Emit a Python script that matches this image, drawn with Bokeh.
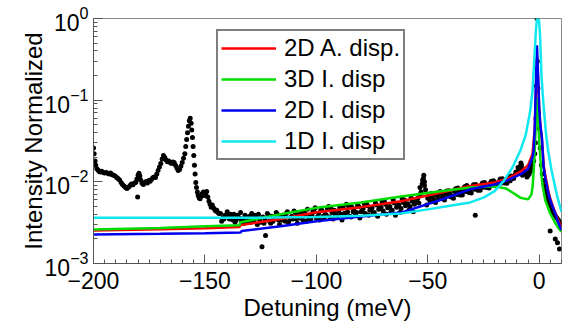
from bokeh.plotting import figure
from bokeh.models import Range1d, SingleIntervalTicker
from bokeh.embed import file_html
from bokeh.resources import INLINE

FONT = "Liberation Sans"

# ---------------- data ----------------
# measured spectrum, left part (x in meV, y in units of 1e-3)
meas_left_x = [-200, -199.7, -199.3, -199, -198.5, -198, -197.5, -197, -196.3, -195.6,
               -195, -194.3, -193.6, -193, -192.3, -191.6, -191, -190.3, -189.6, -189,
               -188.3, -187.6, -187, -186.3, -185.6, -185, -184.3, -183.6, -183, -182.3,
               -181.6, -181, -180.5, -180, -179.6, -179.2, -178.8, -180.2, -178.2, -177.6,
               -177, -176.4, -175.8, -175.2, -174.6, -174, -173.4, -172.8, -172.2, -171.6,
               -171, -170.4, -169.8, -169.2, -168.6, -168, -167.4, -166.8, -166.2, -165.6,
               -165, -164.4, -163.8, -163.2, -162.6, -162, -161.4, -160.8, -160.2, -159.6,
               -159, -158.6, -158.2, -157.8, -157.4, -157, -156.6, -156.2, -155.9, -155.6,
               -155.3, -155, -154.7, -154.4, -154.1, -153.8, -153.4, -153, -152.6, -152.2,
               -151.7, -151.2, -150.7, -150.2, -149.7, -149.2, -148.7, -148.2, -147.7, -147.2,
               -146.7, -146.2, -145.7, -145.2, -144.7, -144.2, -143.7]
meas_left_y = [26, 22, 18, 16, 14.5, 14, 13.5, 13.2, 13.5, 13,
               12.8, 13, 12.7, 12.5, 12.8, 12.2, 12, 11.8, 11.3, 11,
               10.5, 9.8, 9.3, 8.9, 8.5, 8.3, 8.6, 9, 9.4, 9.2,
               9.7, 9.9, 10.8, 12, 12.7, 11.8, 10.5, 6.5, 9.6, 9.3,
               9.8, 10.1, 9.7, 10.4, 10.2, 10.7, 11.2, 11.5, 11.3, 12.5,
               13.8, 15.2, 16.8, 19, 21, 19.8, 18.5, 17.6, 18, 17.2,
               16.8, 17.5, 17.2, 16, 14.8, 13.8, 14.2, 15.5, 17.2, 19.5,
               22, 27, 33, 40, 48, 56, 60, 52, 43, 35,
               27, 21, 16, 12.5, 9.8, 8.5, 7.5, 6.8, 6.4, 6.2,
               6.6, 7.2, 7.5, 6.8, 7.1, 7.6, 6.5, 5.8, 5.3, 4.9,
               5.2, 4.8, 4.6, 4.4, 4.5, 4.2, 4.1]

# measured spectrum, middle part, one point per meV from -143 to -5
meas_mid_x = list(range(-143, -4))
meas_mid_y = [4.1, 3.6, 3.9, 4.3, 3.5, 3.8, 4.0, 3.4, 3.7, 4.2,
              3.5, 3.9, 3.3, 3.8, 4.1, 3.4, 3.6, 4.0, 3.2, 3.7,
              3.5, 4.1, 3.3, 3.8, 3.5, 4.2, 3.4, 3.7, 3.9, 3.3,
              4.3, 3.6, 3.8, 4.4, 3.5, 3.9, 4.1, 3.4, 4.0, 4.6,
              3.7, 3.9, 4.3, 3.6, 4.1, 4.5, 3.8, 4.0, 4.7, 3.7,
              4.2, 4.5, 3.9, 4.4, 4.0, 4.8, 4.1, 4.3, 3.8, 4.9,
              4.4, 4.2, 5.0, 4.3, 4.7, 4.1, 5.1, 4.5, 4.8, 4.2,
              5.2, 4.6, 4.9, 4.4, 5.3, 4.8, 5.0, 4.5, 5.5, 4.9,
              5.2, 4.7, 5.6, 5.1, 5.4, 5.0, 5.8, 5.3, 5.9, 5.5,
              7.5, 11.0, 8.0, 6.3, 5.8, 6.5, 6.0, 6.8, 6.2, 7.0,
              6.5, 7.3, 6.7, 7.1, 6.6, 7.6, 7.0, 7.8, 7.3, 8.1,
              7.6, 8.4, 7.9, 8.6, 8.1, 8.8, 8.3, 9.1, 8.6, 9.3,
              8.8, 9.6, 9.1, 9.8, 9.3, 10.1, 9.7, 10.4, 10.0, 10.8,
              10.3, 11.3, 12.0, 12.8, 14.0, 16.0, 13.5, 12.5, 12.0]

# measured spectrum, extra scattered points of the middle cloud
meas_extra_x = [-142.5, -140.5, -138.5, -136.5, -134.5, -132.5, -130.5, -128.5, -126.5, -124.4,
                -122.8, -120.5, -118.5, -116.5, -114.5, -112.5, -110.5, -108.5, -106.5, -104.5,
                -102.5, -100.5, -98.5, -96.5, -94.5, -92.5, -90.5, -88.5, -86.5, -84.5,
                -82.5, -80.5, -78.5, -76.5, -74.5, -72.5, -70.5, -68.5, -66.5, -64.5,
                -62.5, -60.5, -58.5, -56.5, -54.5, -53.5, -52.5, -52.3, -51.8, -51.5,
                -50.5, -48.5, -46.5, -44.5, -42.5, -40.5, -38.5, -36.5, -34.5, -32.5,
                -30.5, -28.7, -28.5, -26.5, -24.5, -22.5, -20.5, -18.5, -16.5, -14.5,
                -12.5, -10.5, -9.5, -8.5, -8.2, -7.5, -6.5, -5.5]
meas_extra_y = [3.3, 3.7, 4.0, 3.2, 3.6, 3.1, 3.5, 3.9, 3.0, 1.6,
                2.2, 3.1, 3.6, 3.0, 3.8, 3.2, 3.5, 3.1, 3.7, 3.3,
                3.5, 4.8, 3.4, 3.6, 5.0, 3.5, 3.8, 3.4, 5.3, 3.7,
                4.0, 3.6, 5.4, 3.9, 4.1, 3.8, 5.7, 4.0, 4.3, 3.9,
                4.2, 6.0, 4.5, 4.3, 6.3, 8.5, 9.5, 10.5, 12.0, 10.0,
                5.2, 7.2, 5.6, 7.6, 6.0, 7.8, 6.3, 8.4, 6.9, 9.0,
                7.3, 3.9, 9.3, 7.9, 9.8, 8.4, 10.3, 9.0, 10.9, 9.6,
                11.8, 13.2, 15.0, 15.5, 17.0, 14.5, 13.0, 11.5]

# measured spectrum, second set of extra cloud points
meas_more_x = [-141.5, -139.5, -137.5, -135.5, -133.5, -131.5, -129.5, -127.5, -125.5, -123.5,
               -121.5, -119.5, -117.5, -115.5, -113.5, -111.5, -109.5, -107.5, -105.5, -103.5,
               -101.5, -99.5, -97.5, -95.5, -93.5, -91.5, -89.5, -87.5, -85.5, -83.5,
               -81.5, -79.5, -77.5, -75.5, -73.5, -71.5, -69.5, -67.5, -65.5, -63.5,
               -61.5, -59.5, -57.5, -55.5, -53.5, -51.5, -49.5, -47.5, -45.5, -43.5,
               -41.5, -39.5, -37.5, -35.5, -33.5, -31.5, -29.5, -27.5, -25.5, -23.5,
               -21.5, -19.5, -17.5, -15.5, -13.5, -11.5, -9.5, -7.5, -5.5]
meas_more_y = [3.5, 4.0, 3.4, 3.9, 3.3, 3.7, 3.2, 3.9, 3.5, 3.1,
               3.9, 3.3, 4.0, 3.4, 4.1, 3.5, 4.2, 3.6, 4.3, 3.6,
               4.4, 3.7, 4.5, 3.9, 4.7, 4.0, 4.9, 4.1, 5.0, 4.3,
               5.2, 4.4, 5.4, 4.6, 5.6, 4.7, 5.8, 4.9, 6.0, 5.1,
               6.2, 5.3, 6.4, 5.6, 7.0, 9.0, 6.9, 5.8, 7.3, 6.2,
               7.7, 6.5, 8.2, 6.9, 8.7, 7.4, 9.2, 7.9, 9.7, 8.5,
               10.2, 9.0, 10.8, 9.7, 11.5, 11.0, 13.0, 12.0, 12.8]

# measured spectrum, peak and right side
meas_peak_x = [-4.5, -4, -3.5, -3, -2.5, -2, -1.7, -1.4, -1.2, -1.0,
               -0.8, -0.6, -0.3, 0.0, 0.45, 1.0, 1.4, 1.9, 2.3, 2.6,
               3.0, 3.45, 4.0, 4.5, 4.9, 5.2, 5.7, 6.2, 6.8, 7.2,
               7.4, 7.9, 8.2, 8.6, 9.1, 9.4, 9.8]
meas_peak_y = [12.5, 13.5, 15, 16, 18, 22, 30, 60, 150, 1000,
               300, 140, 70, 45, 26, 16, 12.5, 10.4, 9, 8,
               7.2, 6.4, 5.8, 5.3, 2.5, 5.0, 4.5, 4.2, 4.0, 2.0,
               3.8, 3.6, 1.8, 3.4, 1.5, 3.2, 3.0]

# model curves (y in units of 1e-3)
a2d_x = [-200, -170, -150, -134.5, -134, -116, -100, -80, -62, -45,
         -31, -20, -14, -8, -5, -3, -2, -1.5, -1, -0.5,
         0, 0.5, 1.2, 2, 2.7, 4, 4.9, 6, 7.2, 8.5, 10]
a2d_y = [2.54, 2.62, 2.7, 2.8, 2.95, 3.5, 4.25, 4.9, 5.8, 7.3,
         8.9, 9.8, 11.0, 13.5, 16, 22, 45, 120, 350, 180,
         75, 48, 33, 16, 12, 8, 6.3, 5.1, 4.2, 3.4, 2.75]

i3d_x = [-200, -170, -150, -134.5, -134, -116, -100, -80, -62, -45,
         -31, -20, -15, -12, -8.5, -5, -3.5, -3, -2.5, -2,
         -1.5, -1, -0.5, 0, 0.5, 1, 1.5, 2.7, 4.9, 7, 8.5, 10]
i3d_y = [2.6, 2.72, 2.85, 2.95, 3.2, 4.0, 4.8, 5.6, 6.6, 7.6,
         8.5, 8.8, 8.3, 7.4, 6.4, 6.1, 7.0, 8.6, 13, 24,
         55, 107, 60, 30, 20, 12, 9, 6, 4.1, 3.2, 2.75, 2.45]

i2d_x = [-200, -170, -150, -134, -133.5, -116, -100, -80, -62, -45,
         -31, -20, -14, -8, -5, -3, -2.5, -2, -1.5, -1,
         -0.5, 0, 0.5, 1.2, 2, 2.7, 4, 4.9, 6, 7.2, 8.5, 10]
i2d_y = [2.27, 2.31, 2.35, 2.4, 2.5, 2.85, 3.3, 3.75, 4.2, 5.9,
         8.1, 9.3, 10.5, 12.5, 14.5, 20, 24, 45, 160, 470,
         200, 80, 50, 35, 15, 11.3, 7.5, 6.0, 5.0, 4.1, 3.2, 2.55]

i1d_x = [-200, -150, -120, -100, -80, -62, -50, -40, -31, -25,
         -20, -16, -12, -8.5, -6, -4, -3, -2, -1.5, -1,
         -0.6, 0, 0.4, 1.0, 1.9, 3, 4, 5.5, 7.2, 8.5, 10]
i1d_y = [3.63, 3.63, 3.65, 3.72, 3.85, 4.1, 4.6, 5.1, 5.6, 6.4,
         7.7, 10.2, 15, 24, 38, 75, 130, 400, 700, 1000,
         1050, 900, 600, 200, 90, 40, 24, 14, 8.5, 6.0, 4.3]

series_labels = ["2D A. disp.", "3D I. disp", "2D I. disp", "1D I. disp"]
series_colors = ["#FF0000", "#00DD00", "#0000EE", "#10E8F0"]

MILLI = 1e-3

def scale(vals):
    return [v * MILLI for v in vals]

# ---------------- figure ----------------
p = figure(width=570, height=325,
           x_range=Range1d(-200, 10), y_range=Range1d(1e-3, 1.0),
           y_axis_type="log", output_backend="svg", toolbar_location=None,
           min_border_left=93, min_border_right=9, min_border_top=18, min_border_bottom=62)

p.background_fill_color = "white"
p.border_fill_color = "white"
p.outline_line_color = "#8a8a8a"
p.outline_line_width = 1
p.xgrid.visible = False
p.ygrid.visible = False

# measured points
for xs, ys in [(meas_left_x, meas_left_y), (meas_mid_x, meas_mid_y),
               (meas_extra_x, meas_extra_y), (meas_more_x, meas_more_y),
               (meas_peak_x, meas_peak_y)]:
    p.scatter(xs, scale(ys), size=5, color="black", line_color=None)

# model curves
curves = [(a2d_x, a2d_y), (i3d_x, i3d_y), (i2d_x, i2d_y), (i1d_x, i1d_y)]
for (xs, ys), lab, col in zip(curves, series_labels, series_colors):
    p.line(xs, scale(ys), line_color=col, line_width=2.5, legend_label=lab)

# axes
p.xaxis.ticker = SingleIntervalTicker(interval=50, num_minor_ticks=10)
p.xaxis.axis_label = "Detuning (meV)"
p.yaxis.axis_label = "Intensity Normalized"
for ax in (p.xaxis, p.yaxis):
    ax.axis_label_text_font = FONT
    ax.axis_label_text_font_size = "24px"
    ax.axis_label_text_font_style = "normal"
    ax.axis_label_text_color = "black"
    ax.major_label_text_font = FONT
    ax.major_label_text_font_size = "23px"
    ax.major_label_text_color = "black"
    ax.axis_line_color = "#555555"
    ax.major_tick_line_color = "#555555"
    ax.minor_tick_line_color = "#555555"
    ax.major_tick_in = 9
    ax.major_tick_out = 0
    ax.minor_tick_in = 4
    ax.minor_tick_out = 0
p.xaxis.major_label_standoff = 8
p.xaxis.axis_label_standoff = 2
p.yaxis.major_label_standoff = 5
p.yaxis.axis_label_standoff = -5

# legend
lg = p.legend[0]
lg.location = (123, 103)
lg.label_text_font = FONT
lg.label_text_font_size = "24px"
lg.label_text_color = "black"
lg.glyph_width = 55
lg.glyph_height = 26
lg.label_height = 26
lg.label_standoff = 8
lg.spacing = 3
lg.padding = 3
lg.margin = 0
lg.border_line_color = "black"
lg.border_line_width = 2
lg.background_fill_color = "white"
lg.background_fill_alpha = 1.0

open("out.html", "w").write(file_html(p, INLINE))
